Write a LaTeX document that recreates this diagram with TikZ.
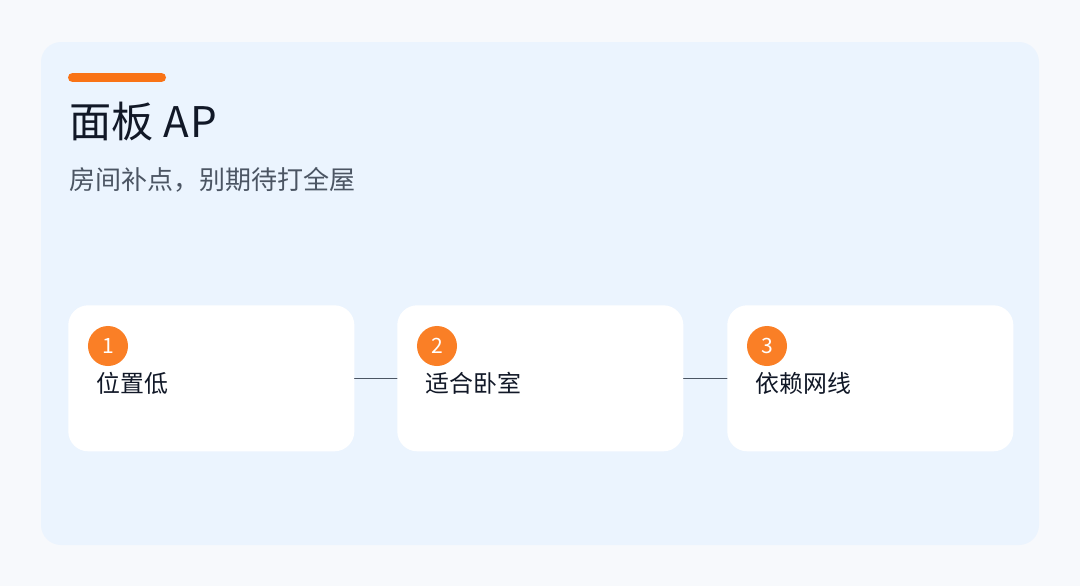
\documentclass[tikz,border=0pt]{standalone}
\usepackage{fontspec}
\setmainfont{Noto Sans CJK SC}
\usetikzlibrary{positioning}
\definecolor{bgpage}{HTML}{F7F9FC}
\definecolor{bgpanel}{HTML}{EBF4FE}
\definecolor{cheng}{HTML}{F97316}
\definecolor{chengnum}{HTML}{FA7F26}
\definecolor{chu}{HTML}{111827}
\definecolor{xam}{HTML}{4B5563}
\definecolor{noi}{HTML}{4B5563}
\begin{document}
\begin{tikzpicture}[x=0.025cm,y=-0.025cm,line join=round,line cap=round,
	the/.style={fill=white,rounded corners=0.5cm,minimum width=7.15cm,minimum height=3.65cm,inner sep=0pt},
	so/.style={circle,fill=chengnum,text=white,minimum size=1cm,inner sep=0pt,font=\fontsize{15}{15}\selectfont},
	nhan/.style={anchor=base west,text=chu,inner sep=0pt,font=\fontsize{17}{17}\selectfont}]
	%%%Nen
	\fill[bgpage](0,0)rectangle(1080,586);
	\fill[bgpanel,rounded corners=0.5cm](41,42)rectangle(1039,545);
	\draw[cheng,line width=0.225cm](72.5,77.5)--(161.5,77.5);
	\node[anchor=base west,inner sep=0pt,text=chu,font=\fontsize{30}{30}\selectfont](tieude) at (69,137){面板 A\kern1pt P};
	\node[anchor=base west,inner sep=0pt,text=xam,font=\fontsize{18.5}{18.5}\selectfont](phude) at (69,189){房间补点，别期待打全屋};
	%%%Cac the
	\foreach \i/\x/\t in{1/68/位置低,2/397/适合卧室,3/727/依赖网线}{
		\node[the,anchor=north west](card\i) at (\x,305){};
		\node[so](num\i) at (\x+40,346){\i};
		\node[nhan](lbl\i) at (\x+28,392){\t};
	}
	\draw[noi,line width=0.7pt](card1.east)--(card2.west);
	\draw[noi,line width=0.7pt](card2.east)--(card3.west);
\end{tikzpicture}
\end{document}
